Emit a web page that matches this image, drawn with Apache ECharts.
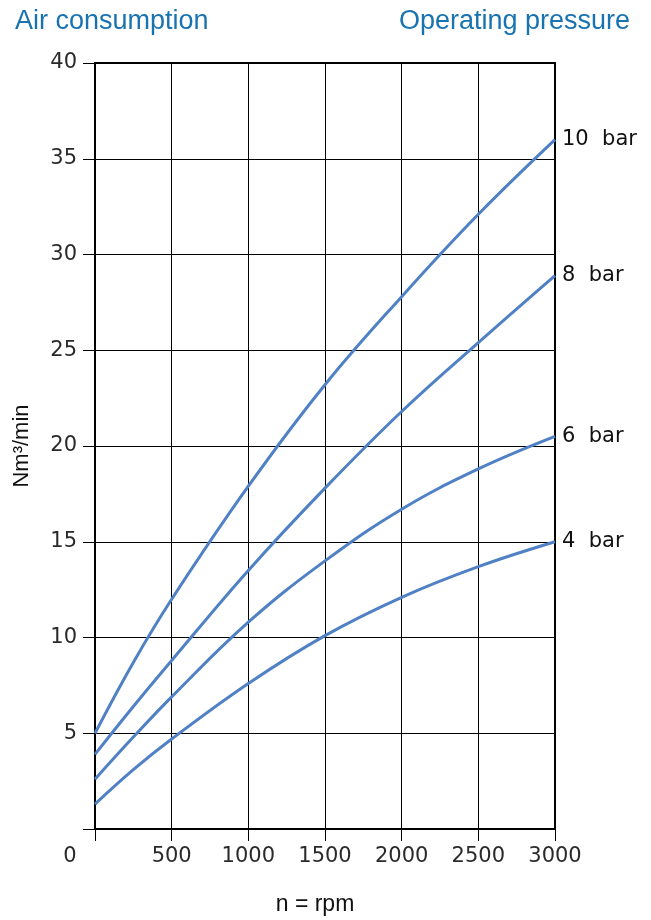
<!DOCTYPE html>
<html>
<head>
<meta charset="utf-8">
<script src="https://cdn.jsdelivr.net/npm/echarts@6/dist/echarts.min.js"></script>
<style>
  html, body { margin: 0; padding: 0; background: #fff; }
  #chart { width: 651px; height: 920px; }
</style>
</head>
<body>
<div id="chart"></div>
<script>
// rpm values where the curves were read
const rpm = [0, 250, 500, 1000, 1500, 2000, 2500, 3000];
// Nm3/min per operating pressure
const bar10 = [5, 8.7, 12, 17.9, 23.2, 27.8, 32.1, 36];
const bar8 = [3.9, 6.4, 8.8, 13.5, 17.8, 21.8, 25.4, 28.9];
const bar6 = [2.6, 4.8, 6.9, 10.8, 14.0, 16.7, 18.8, 20.5];
const bar4 = [1.3, 3.1, 4.7, 7.6, 10.1, 12.1, 13.7, 15];
const seriesNames = ["10  bar", "8  bar", "6  bar", "4  bar"];
const xTicks = [0, 500, 1000, 1500, 2000, 2500, 3000];
const yTicks = [0, 5, 10, 15, 20, 25, 30, 35, 40];

let chart = echarts.init(document.getElementById("chart"));
let font = "DejaVu Sans";
let allData = [bar10, bar8, bar6, bar4];

let option = {
  backgroundColor: "#fff",
  animation: false,
  title: [
    {
      text: "Air consumption",
      left: 10,
      top: 3,
      textStyle: { color: "#1873b0", fontSize: 27, fontWeight: "normal", fontFamily: "Liberation Sans" },
    },
    {
      text: "Operating pressure",
      right: 16,
      top: 3,
      textStyle: { color: "#1873b0", fontSize: 27, fontWeight: "normal", fontFamily: "Liberation Sans" },
    },
  ],
  grid: {
    left: 95,
    right: 96,
    top: 63,
    bottom: 91,
    outerBoundsMode: "none",
    show: true,
    borderColor: "#000",
    borderWidth: 2,
  },
  xAxis: {
    type: "value",
    min: xTicks[0],
    max: xTicks[xTicks.length - 1],
    interval: 500,
    name: "n = rpm",
    nameLocation: "middle",
    nameGap: 64,
    nameTextStyle: { color: "#111", fontSize: 23, fontFamily: "Liberation Sans", padding: [0, 20, 0, 0] },
    axisLine: { show: true, lineStyle: { color: "#000", width: 2 } },
    axisTick: { show: true, inside: false, length: 12, lineStyle: { color: "#000", width: 1 } },
    axisLabel: {
      margin: 17,
      color: "#2a2a2a",
      fontSize: 21,
      fontFamily: font,
      formatter: function (v) {
        return v === 0 ? "{z|0}" : String(v);
      },
      rich: { z: { color: "#2a2a2a", fontSize: 21, fontFamily: font, padding: [0, 50, 0, 0] } },
    },
    splitLine: { show: true, lineStyle: { color: "#000", width: 1 } },
  },
  yAxis: {
    type: "value",
    min: yTicks[0],
    max: yTicks[yTicks.length - 1],
    interval: 5,
    name: "Nm³/min",
    nameLocation: "middle",
    nameGap: 62,
    nameTextStyle: { color: "#111", fontSize: 22, fontFamily: "Liberation Sans" },
    axisLine: { show: true, lineStyle: { color: "#000", width: 2 } },
    axisTick: { show: true, inside: false, length: 12, lineStyle: { color: "#000", width: 1 } },
    axisLabel: {
      margin: 18,
      color: "#2a2a2a",
      fontSize: 21,
      fontFamily: font,
      formatter: function (v) {
        return v === 0 ? "" : String(v);
      },
    },
    splitLine: { show: true, lineStyle: { color: "#000", width: 1 } },
  },
  series: (function () {
    let series = [];
    for (let i = 0; i < allData.length; i++) {
      series.push({
        name: seriesNames[i],
        type: "line",
        smooth: 0.4,
        symbol: "none",
        lineStyle: { color: "#4f81c4", width: 3 },
        data: rpm.map((r, j) => [r, allData[i][j]]),
        endLabel: {
          show: true,
          formatter: seriesNames[i],
          distance: 7,
          color: "#111",
          fontSize: 21,
          fontFamily: font,
        },
      });
    }
    return series;
  })(),
};
chart.setOption(option);
</script>
</body>
</html>
